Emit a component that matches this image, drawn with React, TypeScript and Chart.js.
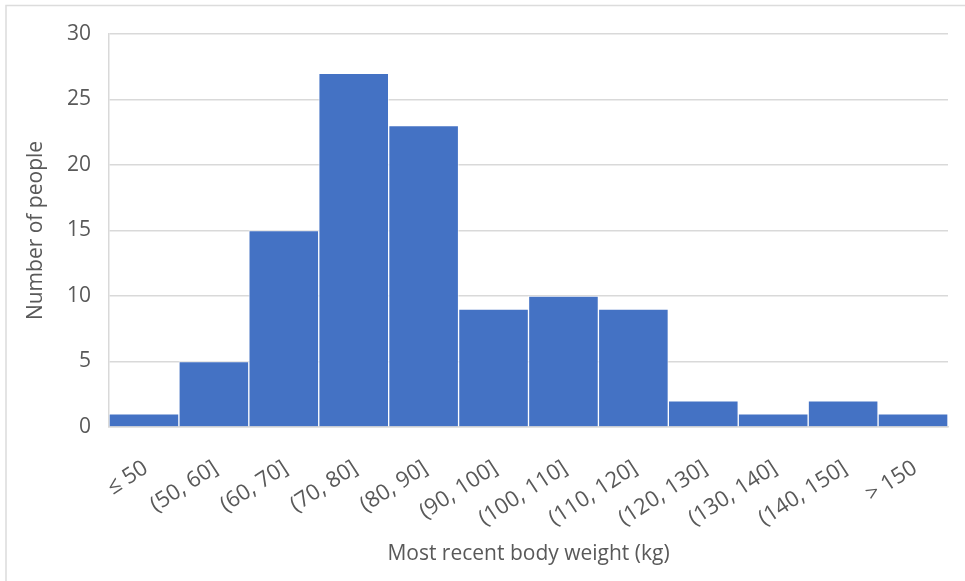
import React, { useEffect, useRef } from "react";
import { Chart, registerables } from "chart.js";

Chart.register(...registerables);

const weightBins: string[] = [
  "≤ 50",
  "(50, 60]",
  "(60, 70]",
  "(70, 80]",
  "(80, 90]",
  "(90, 100]",
  "(100, 110]",
  "(110, 120]",
  "(120, 130]",
  "(130, 140]",
  "(140, 150]",
  "> 150",
];

const peopleCounts: number[] = [1, 5, 15, 27, 23, 9, 10, 9, 2, 1, 2, 1];

const yTicks: number[] = [0, 5, 10, 15, 20, 25, 30];

const xTitle = "Most recent body weight (kg)";
const yTitle = "Number of people";

const FONT = "'Open Sans', 'Noto Sans', sans-serif";
const TEXT = "#595959";
const GRID = "#d9d9d9";

// light frame around the whole chart
const framePlugin = {
  id: "frame",
  afterDraw(chart: Chart) {
    const { ctx, width, height } = chart;
    ctx.save();
    ctx.strokeStyle = "#dcdcdc";
    ctx.lineWidth = 1.5;
    ctx.beginPath();
    ctx.moveTo(6, height);
    ctx.lineTo(6, 5.5);
    ctx.lineTo(width, 5.5);
    ctx.stroke();
    ctx.restore();
  },
};

export default function App() {
  const canvasRef = useRef<HTMLCanvasElement | null>(null);

  useEffect(() => {
    document.body.style.margin = "0";
    const canvas = canvasRef.current;
    if (!canvas) return;
    const chart = new Chart(canvas, {
      type: "bar",
      data: {
        labels: weightBins,
        datasets: [
          {
            label: yTitle,
            data: peopleCounts,
            backgroundColor: "#4472c4",
            borderColor: "rgba(255,255,255,0.6)",
            borderWidth: 1,
            categoryPercentage: 1,
            barPercentage: 1,
          },
        ],
      },
      options: {
        responsive: false,
        animation: false,
        layout: { padding: { left: 0, right: 17, top: 34, bottom: 0 } },
        plugins: {
          legend: { display: false },
          tooltip: { enabled: false },
        },
        scales: {
          x: {
            grid: { display: false, drawTicks: false },
            border: { display: true, color: GRID, width: 1.5 },
            ticks: {
              color: TEXT,
              font: { family: FONT, size: 22 },
              maxRotation: 33,
              minRotation: 33,
              padding: 28,
              labelOffset: 2,
              autoSkip: false,
            },
            title: {
              display: true,
              text: xTitle,
              color: TEXT,
              font: { family: FONT, size: 21 },
              padding: { top: 0, bottom: 14 },
            },
            afterFit(scale: any) {
              scale.height = 154;
            },
          },
          y: {
            min: 0,
            max: 30,
            afterBuildTicks(scale: any) {
              scale.ticks = yTicks.map((v) => ({ value: v }));
            },
            grid: { color: GRID, lineWidth: 1.5, drawTicks: false },
            border: { display: true, color: GRID, width: 1.5 },
            ticks: {
              color: TEXT,
              font: { family: FONT, size: 21 },
              padding: 18,
            },
            title: {
              display: true,
              text: yTitle,
              color: TEXT,
              font: { family: FONT, size: 21 },
              padding: { top: 23, bottom: 0 },
            },
            afterFit(scale: any) {
              scale.width = 109;
            },
          },
        },
      },
      plugins: [framePlugin],
    });
    return () => chart.destroy();
  }, []);

  return (
    <div style={{ width: 965, height: 581, background: "#fff" }}>
      <canvas ref={canvasRef} width={965} height={581} />
    </div>
  );
}
